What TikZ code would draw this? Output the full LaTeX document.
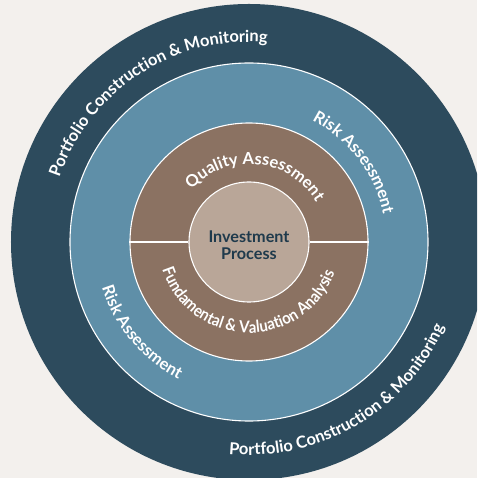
\documentclass[tikz,border=0pt]{standalone}
\usepackage{fontspec}
\setmainfont{Lato}
\newfontfamily\condlato[FakeStretch=0.9]{Lato}
\usetikzlibrary{decorations.text}
\definecolor{bgc}{HTML}{F3F0ED}
\definecolor{outerc}{HTML}{2D4B5D}
\definecolor{bluec}{HTML}{5F8FA8}
\definecolor{brownc}{HTML}{8B7262}
\definecolor{innerc}{HTML}{B9A698}
\definecolor{darktxt}{HTML}{1F3A4C}
\newcommand\ringfont{\bfseries\fontsize{16.5}{16.5}\selectfont}
\newcommand\smallringfont{\condlato\bfseries\fontsize{16.5}{16.5}\selectfont}
\tikzset{
  disc/.style={circle, inner sep=0pt, minimum size=#1},
  rim/.style={draw=white, line width=1.1pt},
  ringtext/.style={decorate, decoration={text along path, text align=center, text color=white, text={#1}}}
}
\begin{document}
\begin{tikzpicture}[x=1pt,y=1pt]
\useasboundingbox (-249,-236) rectangle (228,242);
\clip (-249,-236) rectangle (228,242);
\fill[bgc] (-249,-236) rectangle (228,242);
\node[disc=476pt, fill=outerc] (outer) at (0,0) {};
\node[disc=358pt, fill=bluec, rim] (blue) at (0,0) {};
\node[disc=238pt, fill=brownc, rim] (brown) at (0,0) {};
\node[disc=120pt, fill=innerc, rim] (inner) at (0,0) {};
\draw[white, line width=1.1pt] (brown.west) -- (inner.west);
\draw[white, line width=1.1pt] (inner.east) -- (brown.east);
\node[align=center, text=darktxt, font=\bfseries\fontsize{16.2}{17.5}\selectfont] (label) at (0,-3) {Investment\\Process};
% ring texts
\path[ringtext={|\ringfont|Portfolio Construction {\&} Monitoring}] (183:200) arc[start angle=183, end angle=63, radius=200];
\path[ringtext={|\ringfont|Portfolio Construction {\&} Monitoring}] (240.5:213) arc[start angle=240.5, end angle=360.5, radius=213];
\path[ringtext={|\ringfont|Risk Assessment}] (97:137) arc[start angle=97, end angle=-23, radius=137];
\path[ringtext={|\ringfont|Risk Assessment}] (160:154) arc[start angle=160, end angle=280, radius=154];
\path[ringtext={|\ringfont|Quality Assessment}] (174:78) arc[start angle=174, end angle=-6, radius=78];
\path[ringtext={|\smallringfont|Fundamental {\&} Valuation Analysis}] (169:91) arc[start angle=169, end angle=369, radius=91];
\end{tikzpicture}
\end{document}
